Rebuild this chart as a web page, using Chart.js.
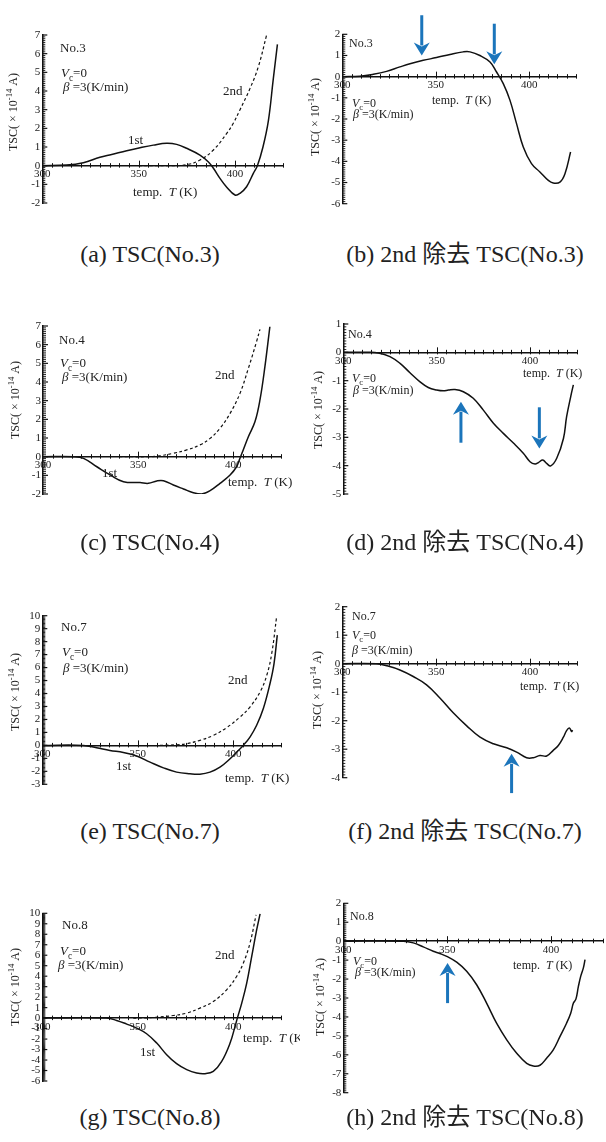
<!DOCTYPE html>
<html>
<head>
<meta charset="utf-8">
<script src="https://cdn.jsdelivr.net/npm/chart.js@4.4.1/dist/chart.umd.min.js"></script>
<style>
  html, body { margin: 0; padding: 0; background: #fff; }
  body { position: relative; width: 606px; height: 1142px; overflow: hidden; }
  canvas { position: absolute; }
  .cap {
    position: absolute; transform: translateX(-50%); white-space: nowrap;
    font-family: 'Liberation Serif', 'Noto Sans CJK JP', serif; font-size: 24px;
    line-height: 24px; color: #222;
  }
</style>
</head>
<body>
<script>
const FONT = "'Liberation Serif', 'Times New Roman', serif";

// temperature range and tick labels shared by every panel
const xRange = [300, 425];
const xTickStep = 50;

// (a) No.3 TSC, 1st and 2nd run
const a1T = [300, 312.6, 321.3, 329.9, 336, 343.8, 350.7, 357.6, 364.5, 369.7, 374.9, 381.8, 386.2, 388.8, 392.2, 395.7, 400, 402.6, 406, 409.5, 411.6, 414.5, 417.3, 419.8, 422];
const a1Y = [0, 0.03, 0.16, 0.45, 0.6, 0.8, 0.96, 1.1, 1.2, 1.14, 0.93, 0.57, 0.2, -0.14, -0.68, -1.15, -1.57, -1.48, -1.13, -0.41, 0, 1.0, 2.4, 4.6, 6.5];
const a2T = [350, 365, 374.9, 381.8, 388.8, 395.7, 399.1, 402.6, 407.8, 412.1, 416.4];
const a2Y = [0, 0, 0.05, 0.3, 0.84, 1.73, 2.27, 3.0, 4.14, 5.3, 7.0];

// (b) No.3 with 2nd removed
const bT = [300, 309.4, 316.6, 323.7, 330.8, 336.2, 343.3, 350.4, 357.6, 364.7, 368.3, 373.6, 379, 382.5, 386.1, 389.7, 393.2, 396.8, 401.2, 405.7, 410.2, 412.8, 416.4, 419.1, 422.1];
const bY = [0, 0.02, 0.11, 0.25, 0.46, 0.61, 0.77, 0.9, 1.05, 1.17, 1.17, 1.0, 0.69, 0.22, -0.33, -1.12, -2.22, -3.32, -4.11, -4.5, -4.9, -5.02, -4.98, -4.58, -3.56];

// (c) No.4 TSC
const c1T = [300, 316.1, 321.3, 328.3, 335.3, 342.3, 351, 355.4, 359.8, 363.3, 368.5, 373.8, 379, 383.4, 387.8, 393, 398.3, 401.7, 403.5, 405.2, 407.9, 411.4, 414, 416.6, 419.2];
const c1Y = [0, 0, -0.09, -0.54, -0.98, -1.34, -1.39, -1.43, -1.3, -1.29, -1.52, -1.73, -1.93, -2.0, -1.82, -1.43, -0.98, -0.54, -0.09, 0.36, 1.07, 1.88, 3.04, 4.82, 6.96];
const c2T = [340, 356.3, 361.5, 368.5, 375.5, 382.5, 387.8, 393, 398.3, 403.5, 407.9, 412.2, 414];
const c2Y = [0, 0, 0.05, 0.18, 0.36, 0.63, 0.98, 1.52, 2.32, 3.39, 4.73, 6.16, 6.82];

// (d) No.4 with 2nd removed
const dT = [300, 312.5, 318.75, 325, 330.4, 335.7, 341.1, 345.5, 350, 353.6, 356.3, 359.8, 364.3, 369.6, 375, 380.4, 385.7, 391.1, 396.4, 400, 402.7, 404.5, 406.8, 408.9, 411.1, 414.3, 417.9, 419.6, 421.8, 423.2];
const dY = [0, 0, -0.02, -0.15, -0.39, -0.72, -1.04, -1.24, -1.33, -1.36, -1.33, -1.31, -1.39, -1.62, -2.04, -2.5, -2.86, -3.2, -3.56, -3.86, -3.94, -3.89, -3.8, -3.92, -4.01, -3.74, -3.04, -2.27, -1.56, -1.15];

// (e) No.7 TSC
const e1T = [300, 321.5, 328.4, 335.4, 342.4, 349.4, 356.4, 363.4, 370.3, 377.3, 382.5, 387.8, 393, 398.3, 402.6, 405.2, 408.7, 412.2, 415.7, 419.2, 421.3, 423];
const e1Y = [0, 0, -0.18, -0.39, -0.55, -0.82, -1.29, -1.73, -2.06, -2.19, -2.22, -2.06, -1.68, -1.03, -0.39, 0, 0.64, 1.55, 2.84, 4.77, 6.31, 8.5];
const e2T = [361.6, 370.3, 375.6, 382.5, 389.5, 396.5, 403.5, 408.7, 414, 417.5, 420.1, 422.7];
const e2Y = [0, 0.05, 0.13, 0.39, 0.77, 1.37, 2.19, 2.96, 4.12, 5.41, 7.09, 9.97];

// (f) No.7 with 2nd removed
const fT = [300, 318.3, 323.6, 330.7, 337.8, 344.9, 352, 359.1, 366.3, 373.4, 380.5, 387.6, 392.9, 398.2, 401.8, 405.3, 408.9, 412.4, 415.1, 417.8, 419.5, 421, 422.2, 422.7];
const fY = [0, 0, -0.07, -0.22, -0.45, -0.74, -1.2, -1.72, -2.18, -2.58, -2.81, -2.95, -3.1, -3.3, -3.3, -3.22, -3.24, -3.04, -2.87, -2.58, -2.35, -2.26, -2.38, -2.33];

// (g) No.8 TSC
const g1T = [300, 333.7, 338.9, 344.2, 349.4, 354.6, 359.9, 365.1, 370.3, 375.6, 380.8, 385.2, 389.5, 393.9, 398.3, 400.9, 402.1, 404.4, 407, 409.6, 412.2, 414];
const g1Y = [0, 0, -0.22, -0.57, -0.95, -1.49, -2.38, -3.49, -4.35, -4.92, -5.24, -5.3, -5.08, -4.13, -2.38, -0.79, 0, 1.43, 3.33, 5.87, 8.41, 9.94];
const g2T = [347.6, 358.1, 368.6, 375.6, 382.5, 389.5, 396.5, 401.7, 405.2, 408.7, 411.9];
const g2Y = [0, 0.06, 0.25, 0.48, 0.95, 1.59, 2.7, 3.97, 5.24, 7.14, 9.84];

// (h) No.8 with 2nd removed
const hT = [300, 328.9, 333.7, 338.5, 343.3, 346.5, 349.8, 354.6, 359.4, 364.2, 369, 373.8, 378.7, 383.5, 388.3, 391.5, 394.7, 397.9, 401.1, 404.3, 407.5, 409.5, 410.8, 412, 413.2, 414.3, 415.6, 416.4];
const hY = [0, 0, -0.09, -0.3, -0.53, -0.65, -0.8, -1.11, -1.59, -2.3, -3.27, -4.33, -5.21, -5.92, -6.45, -6.59, -6.55, -6.18, -5.74, -5.04, -4.33, -3.8, -3.27, -3.06, -2.39, -1.86, -1.41, -0.97];

// y ranges of the panels
const yRangeA = [-2, 7], yRangeB = [-6, 2];
const yRangeC = [-2, 7], yRangeD = [-5, 1];
const yRangeE = [-3, 10], yRangeF = [-4, 2];
const yRangeG = [-6, 10], yRangeH = [-8, 2];

// blue arrows: [T, tail, tip]
const arrowsB = [[342.5, 2.9, 1.0], [381.3, 2.5, 0.58]];
const arrowsD = [[363, -3.19, -1.74], [405, -1.94, -3.39]];
const arrowsF = [[390.2, -4.54, -3.16]];
const arrowsH = [[350.2, -3.27, -1.15]];

const captions = [
  '(a) TSC(No.3)', '(b) 2nd 除去 TSC(No.3)',
  '(c) TSC(No.4)', '(d) 2nd 除去 TSC(No.4)',
  '(e) TSC(No.7)', '(f) 2nd 除去 TSC(No.7)',
  '(g) TSC(No.8)', '(h) 2nd 除去 TSC(No.8)'
];

// text parts
const vc = [['V', 'i'], ['c', 'sub'], ['=0', 'n']];
const beta = [['β', 'i'], [' =3(K/min)', 'n']];
const temp = [['temp.  ', 'n'], ['T', 'i'], [' (K)', 'n']];
const txt = s => [[s, 'n']];

const Y_W = 36;

const panels = [
  { box: [0, 0, 300, 240], plot: [42.3, 35, 283.2, 203], y: yRangeA,
    sets: [[a1T, a1Y, false], [a2T, a2Y, true]], fs: 13, title: [13, 112], arrows: [],
    labels: [[60, 48, txt('No.3')], [61, 73, vc], [63, 87, beta], [223, 91, txt('2nd')], [128, 140, txt('1st')], [133, 192, temp]] },
  { box: [300, 0, 306, 240], plot: [342.3, 34.3, 576, 203.7], y: yRangeB,
    sets: [[bT, bY, false]], fs: 12, title: [315, 117], arrows: arrowsB,
    labels: [[349, 43, txt('No.3')], [352, 103, vc], [353, 114, beta], [432, 100, temp]] },
  { box: [0, 300, 300, 230], plot: [43, 326, 280.9, 494], y: yRangeC,
    sets: [[c1T, c1Y, false], [c2T, c2Y, true]], fs: 13, title: [15, 400], arrows: [],
    labels: [[59, 340, txt('No.4')], [60, 363, vc], [62, 377, beta], [215, 375, txt('2nd')], [102, 473, txt('1st')], [228, 482, temp]] },
  { box: [300, 300, 306, 230], plot: [343.3, 324, 576.7, 494], y: yRangeD,
    sets: [[dT, dY, false]], fs: 12, title: [318, 410], arrows: arrowsD,
    labels: [[348, 334, txt('No.4')], [352, 378, vc], [353, 390, beta], [523, 373, temp]] },
  { box: [0, 590, 300, 220], plot: [42.3, 615.7, 281.1, 784.3], y: yRangeE,
    sets: [[e1T, e1Y, false], [e2T, e2Y, true]], fs: 13, title: [15, 692], arrows: [],
    labels: [[61, 627, txt('No.7')], [62, 652, vc], [63, 668, beta], [228, 680, txt('2nd')], [116, 766, txt('1st')], [225, 778, temp]] },
  { box: [300, 590, 306, 220], plot: [342.3, 606.7, 576.9, 777.7], y: yRangeF,
    sets: [[fT, fY, false]], fs: 12, title: [317, 690], arrows: arrowsF,
    labels: [[352, 616, txt('No.7')], [352, 635, vc], [352, 650, beta], [520, 686, temp]] },
  { box: [0, 890, 300, 210], plot: [42.3, 913.3, 281.1, 1081], y: yRangeG,
    sets: [[g1T, g1Y, false], [g2T, g2Y, true]], fs: 13, title: [15, 987], arrows: [],
    labels: [[62, 925, txt('No.8')], [60, 951, vc], [58, 965, beta], [215, 955, txt('2nd')], [140, 1052, txt('1st')], [243, 1038, temp]] },
  { box: [300, 890, 306, 215], plot: [343.3, 903.3, 602.9, 1092.7], y: yRangeH,
    sets: [[hT, hY, false]], fs: 12, title: [320, 997], arrows: arrowsH,
    labels: [[350, 916, txt('No.8')], [353, 961, vc], [355, 972, beta], [513, 965, temp]] }
];

const capPos = [[150, 254], [465, 254], [150, 542], [465, 542], [150, 831], [465, 831], [150, 1117], [465, 1117]];

function rich(ctx, x, y, parts, size, measureOnly) {
  let cx = x;
  const base = y + size * 0.33;
  for (const [t, k] of parts) {
    const small = k === 'sub' || k === 'sup';
    const fs = small ? size * 0.72 : size;
    ctx.font = (k === 'i' ? 'italic ' : '') + fs + 'px ' + FONT;
    const dy = k === 'sub' ? size * 0.25 : k === 'sup' ? -size * 0.38 : 0;
    if (!measureOnly) ctx.fillText(t, cx, base + dy);
    cx += ctx.measureText(t).width;
  }
  return cx - x;
}

function drawArrow(ctx, x, y1, y2) {
  const dir = y2 > y1 ? 1 : -1;
  const head = 13, half = 8;
  ctx.save();
  ctx.strokeStyle = '#1b75bb';
  ctx.fillStyle = '#1b75bb';
  ctx.lineWidth = 3;
  ctx.beginPath();
  ctx.moveTo(x, y1);
  ctx.lineTo(x, y2 - dir * (head - 3));
  ctx.stroke();
  ctx.beginPath();
  ctx.moveTo(x, y2);
  ctx.lineTo(x - half, y2 - dir * head);
  ctx.lineTo(x, y2 - dir * (head - 4));
  ctx.lineTo(x + half, y2 - dir * head);
  ctx.closePath();
  ctx.fill();
  ctx.restore();
}

function decor(p) {
  return {
    id: 'decor',
    afterDraw(chart) {
      const ctx = chart.ctx;
      const xs = chart.scales.x, ys = chart.scales.y;
      const ox = p.box[0], oy = p.box[1];
      const y0 = ys.getPixelForValue(0);
      const left = chart.chartArea.left;
      ctx.save();
      ctx.strokeStyle = '#111';
      // y ticks, inward
      for (let i = Math.round(p.y[0] * 10); i <= Math.round(p.y[1] * 10); i++) {
        const py = ys.getPixelForValue(i / 10);
        const major = i % 10 === 0;
        ctx.lineWidth = major ? 1.2 : 0.9;
        ctx.beginPath();
        ctx.moveTo(left, py);
        ctx.lineTo(left + (major ? 5 : 3), py);
        ctx.stroke();
      }
      // x ticks every 5 K
      ctx.lineWidth = 1;
      for (let t = xRange[0] + 5; t <= xRange[1]; t += 5) {
        const px = Math.round(xs.getPixelForValue(t)) + 0.5;
        const major = t % 50 === 0;
        ctx.beginPath();
        ctx.moveTo(px, y0 - (major ? 5 : 2.5));
        ctx.lineTo(px, y0 + 2);
        ctx.stroke();
      }
      // texts
      ctx.fillStyle = '#222';
      ctx.textAlign = 'left';
      ctx.textBaseline = 'alphabetic';
      for (const [lx, ly, parts] of p.labels) rich(ctx, lx - ox, ly - oy, parts, p.fs);
      // y axis title
      const tparts = [['TSC( × 10', 'n'], ['-14', 'sup'], [' A)', 'n']];
      const w = rich(ctx, 0, 0, tparts, 12, true);
      ctx.translate(p.title[0] - ox, p.title[1] - oy);
      ctx.rotate(-Math.PI / 2);
      rich(ctx, -w / 2, 0, tparts, 12);
      ctx.restore();
      // arrows
      for (const [t, a, b] of p.arrows) {
        drawArrow(ctx, xs.getPixelForValue(t), ys.getPixelForValue(a), ys.getPixelForValue(b));
      }
    }
  };
}

panels.forEach((p, k) => {
  const cv = document.createElement('canvas');
  cv.width = p.box[2];
  cv.height = p.box[3];
  cv.style.left = p.box[0] + 'px';
  cv.style.top = p.box[1] + 'px';
  document.body.appendChild(cv);

  const pad = {
    left: p.plot[0] - p.box[0] - Y_W,
    top: p.plot[1] - p.box[1],
    right: p.box[0] + p.box[2] - p.plot[2],
    bottom: p.box[1] + p.box[3] - p.plot[3]
  };

  new Chart(cv, {
    type: 'line',
    data: {
      datasets: p.sets.map(([T, Y, dash]) => ({
        data: T.map((t, i) => ({ x: t, y: Y[i] })),
        borderColor: '#111',
        borderWidth: dash ? 1.2 : 1.5,
        borderDash: dash ? [3, 2.5] : [],
        pointRadius: 0,
        tension: 0.4,
        fill: false
      }))
    },
    options: {
      responsive: false,
      animation: false,
      devicePixelRatio: 1,
      layout: { padding: pad },
      plugins: { legend: { display: false }, tooltip: { enabled: false } },
      scales: {
        x: {
          type: 'linear', min: xRange[0], max: xRange[1], position: { y: 0 },
          ticks: { stepSize: xTickStep, includeBounds: false, maxRotation: 0, padding: 2,
            autoSkip: false, color: '#222', font: { family: FONT, size: 11 } },
          grid: { display: false, drawTicks: false },
          border: { display: true, color: '#111', width: 1.5 }
        },
        y: {
          type: 'linear', min: p.y[0], max: p.y[1],
          ticks: { stepSize: 1, padding: 2, autoSkip: false, color: '#222',
            font: { family: FONT, size: 11 } },
          grid: { display: false, drawTicks: false },
          border: { display: true, color: '#111', width: 1.5 },
          afterFit(s) { s.width = Y_W; }
        }
      }
    },
    plugins: [decor(p)]
  });

  const d = document.createElement('div');
  d.className = 'cap';
  d.textContent = captions[k];
  d.style.left = capPos[k][0] + 'px';
  d.style.top = (capPos[k][1] - 12) + 'px';
  document.body.appendChild(d);
});
</script>
</body>
</html>
